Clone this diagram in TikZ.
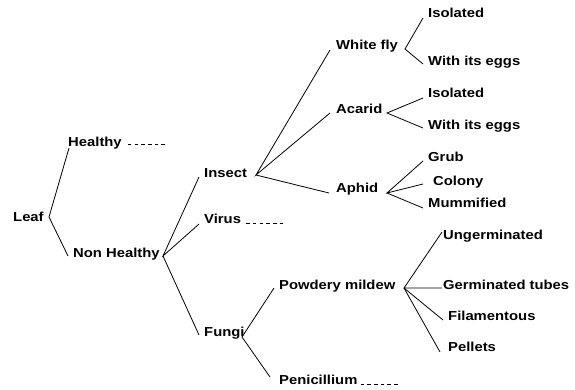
\documentclass[tikz,border=0pt]{standalone}
\usepackage{fontspec}
\setmainfont{Liberation Sans}[FakeStretch=1.14]
\begin{document}
\begin{tikzpicture}[x=1pt,y=-1pt,
  lbl/.style={anchor=base west,inner sep=0pt,font=\fontsize{13}{15}\selectfont\bfseries},
  link/.style={line width=0.8pt,black},
  leader/.style={line width=0.8pt,dash pattern=on 3.5pt off 3.2pt}]
\useasboundingbox (0,0) rectangle (575,389);

% branching points
\coordinate (vLeaf) at (49,217);
\coordinate (vNon)  at (163,256);
\coordinate (vIns)  at (256,175);
\coordinate (vFun)  at (242,337);
\coordinate (vWf)   at (405,49);
\coordinate (vAc)   at (387,113);
\coordinate (vAp)   at (387,193);
\coordinate (vPm)   at (404,288);

% labels
\node[lbl] (leaf)    at (13,221.5)  {Leaf};
\node[lbl] (healthy) at (68,146.5)  {Healthy};
\node[lbl] (nonh)    at (73,257.5)  {Non Healthy};
\node[lbl] (insect)  at (204,177.5) {Insect};
\node[lbl] (virus)   at (204,223.5) {Virus};
\node[lbl] (fungi)   at (204,336.5) {Fungi};
\node[lbl] (wfly)    at (336,49.5)  {White fly};
\node[lbl] (acarid)  at (336,113.5) {Acarid};
\node[lbl] (aphid)   at (336,192.5) {Aphid};
\node[lbl] (isoA)    at (428,17.5)  {Isolated};
\node[lbl] (eggsA)   at (428,65.5)  {With its eggs};
\node[lbl] (isoB)    at (428,97.5)  {Isolated};
\node[lbl] (eggsB)   at (428,129.5) {With its eggs};
\node[lbl] (grub)    at (428,161.5) {Grub};
\node[lbl] (colony)  at (433,185.5) {Colony};
\node[lbl] (mumm)    at (428,207.5) {Mummified};
\node[lbl] (pmildew) at (279,289.5) {Powdery mildew};
\node[lbl] (penic)   at (279,384.5) {Penicillium};
\node[lbl] (unger)   at (443,239.5) {Ungerminated};
\node[lbl] (germ)    at (443,289.5) {Germinated tubes};
\node[lbl] (filam)   at (448,320.5) {Filamentous};
\node[lbl] (pell)    at (448,351.5) {Pellets};

% connectors
\draw[link] ([shift={(1,1.5)}]healthy.base west) -- (vLeaf) -- ([shift={(-5,-1.5)}]nonh.base west);
\draw[link] ([shift={(-5,-0.5)}]insect.base west) -- (vNon) -- ([shift={(-5,0.5)}]virus.base west);
\draw[link] (vNon) -- ([shift={(-5,-1.5)}]fungi.base west);
\draw[link] ([shift={(-6,0.5)}]wfly.base west) -- (vIns) -- ([shift={(-6,-0.5)}]acarid.base west);
\draw[link] (vIns) -- ([shift={(-7,0.5)}]aphid.base west);
\draw[link] ([shift={(-5,0.5)}]isoA.base west) -- (vWf) -- ([shift={(-5,-1.5)}]eggsA.base west);
\draw[link] ([shift={(-5,0.5)}]isoB.base west) -- (vAc) -- ([shift={(-5,-1.5)}]eggsB.base west);
\draw[link] ([shift={(-5,-0.5)}]grub.base west) -- (vAp) -- ([shift={(-10,-1.5)}]colony.base west);
\draw[link] (vAp) -- ([shift={(-5,0.5)}]mumm.base west);
\draw[link] ([shift={(-5,-1.5)}]pmildew.base west) -- (vFun) -- ([shift={(-9,-7.5)}]penic.base west);
\draw[link] ([shift={(-1,-7.5)}]unger.base west) -- (vPm) -- ([shift={(-1,-1.5)}]germ.base west);
\draw[link] (vPm) -- ([shift={(-5,-0.5)}]filam.base west);
\draw[link] (vPm) -- ([shift={(-8,0.5)}]pell.base west);

% dotted leaders for branches left open
\draw[leader] ([shift={(6,-2.5)}]healthy.base east) -- ++(39,0);
\draw[leader] ([shift={(5,0)}]virus.base east) -- ++(38,0);
\draw[leader] ([shift={(3,-0.5)}]penic.base east) -- ++(38,0);
\end{tikzpicture}
\end{document}
